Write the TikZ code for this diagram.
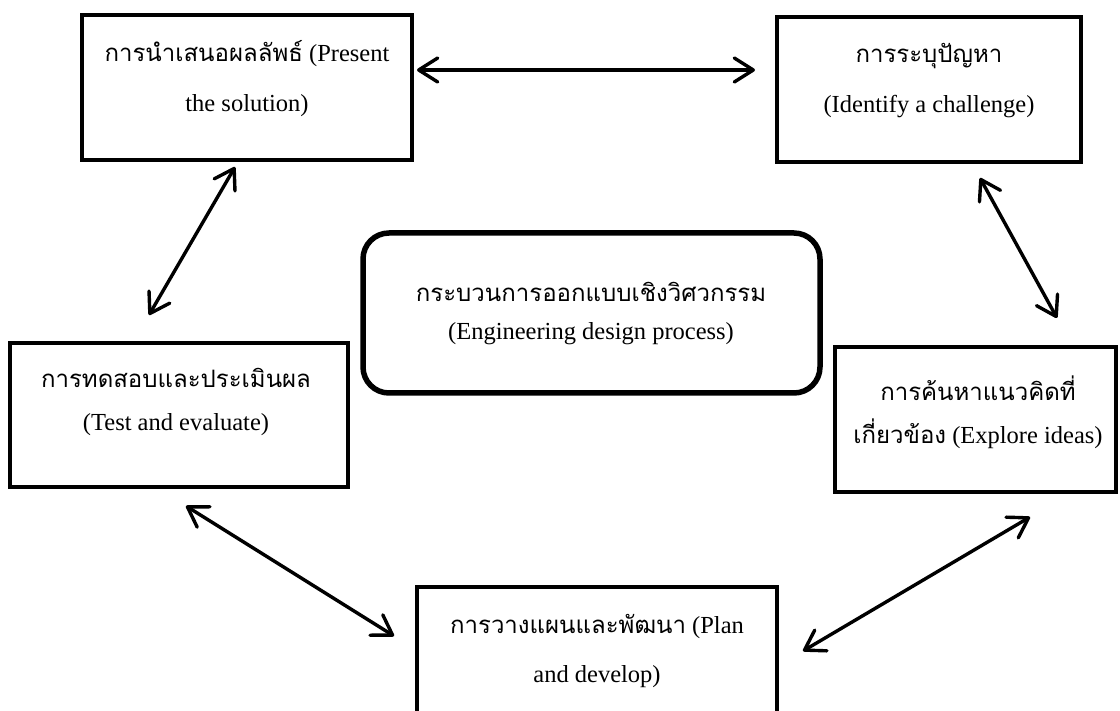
\documentclass[tikz,border=0pt]{standalone}
\usepackage{fontspec}
\setmainfont{Liberation Serif}
\newfontfamily\thaifont[Script=Thai]{Loma}
\usetikzlibrary{arrows.meta}
\newcommand{\thtext}[1]{{\thaifont\fontsize{24}{24}\selectfont #1}}

\begin{document}
\begin{tikzpicture}[x=1pt,y=-1pt,
  stagebox/.style={draw,line width=4pt},
  txt/.style={anchor=base,inner sep=0pt,font=\fontsize{24.5}{24.5}\selectfont},
  link/.style={line width=3.4pt,line cap=round,
    {Straight Barb[length=19pt,width=24pt,line width=3.4pt,line cap=round,line join=round]}-{Straight Barb[length=19pt,width=24pt,line width=3.4pt,line cap=round,line join=round]}}
]
\useasboundingbox (0,0) rectangle (1120,711);
\clip (0,0) rectangle (1120,711);
\fill[white] (0,0) rectangle (1120,711);

% process stages
\draw[stagebox] (82,15) rectangle (412,160);
\node (present) at (247,87.5) {};
\draw[stagebox] (777,17) rectangle (1081,162);
\node (identify) at (929,89.5) {};
\draw[stagebox] (10,343) rectangle (348,487);
\node (test) at (179,415) {};
\draw[stagebox] (835,347) rectangle (1116,492);
\node (explore) at (975,420) {};
\draw[stagebox] (417,760) -- (417,587) -- (777,587) -- (777,760);
\node (plan) at (597,660) {};

% central title
\draw[line width=5.5pt,rounded corners=26pt] (363,233) rectangle (820,393);
\node (title) at (591,313) {};

% labels
\node[txt] (t1a) at (247,62) {\thtext{การนำเสนอผลลัพธ์} (Present};
\node[txt] (t1b) at (247,112) {the solution)};
\node[txt] (t2a) at (929,63) {\thtext{การระบุปัญหา}};
\node[txt] (t2b) at (929,113) {(Identify a challenge)};
\node[txt] (t3a) at (591,302) {\thtext{กระบวนการออกแบบเชิงวิศวกรรม}};
\node[txt] (t3b) at (591,340) {(Engineering design process)};
\node[txt] (t4a) at (176,388) {\thtext{การทดสอบและประเมินผล}};
\node[txt] (t4b) at (176,431) {(Test and evaluate)};
\node[txt] (t5a) at (978,401) {\thtext{การค้นหาแนวคิดที่}};
\node[txt] (t5b) at (978,443) {\thtext{เกี่ยวข้อง} (Explore ideas)};
\node[txt] (t6a) at (597,633) {\thtext{การวางแผนและพัฒนา} (Plan};
\node[txt] (t6b) at (597,682) {and develop)};

% arrow end points
\coordinate (p1) at (417,70);
\coordinate (p2) at (755,70);
\coordinate (p3) at (235,167);
\coordinate (p4) at (149,315);
\coordinate (p5) at (980,178);
\coordinate (p6) at (1057,318);
\coordinate (p7) at (186,506);
\coordinate (p8) at (394,636);
\coordinate (p9) at (1030,517);
\coordinate (p10) at (803,651);

\draw[link] (p1) -- (p2);
\draw[link] (p3) -- (p4);
\draw[link] (p5) -- (p6);
\draw[link] (p7) -- (p8);
\draw[link] (p9) -- (p10);
\end{tikzpicture}
\end{document}
